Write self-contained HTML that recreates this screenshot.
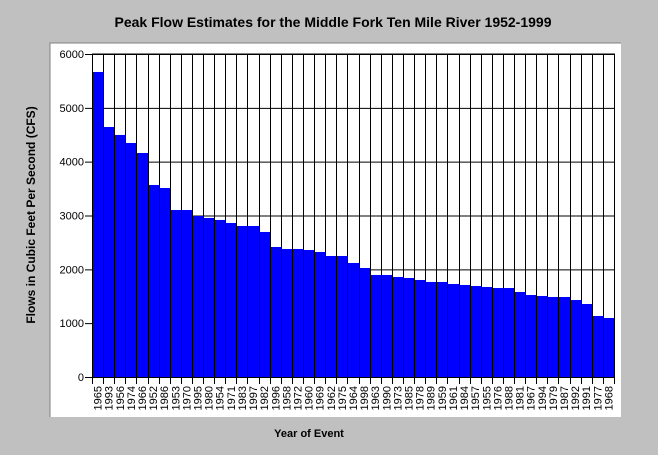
<!DOCTYPE html>
<html><head><meta charset="utf-8"><style>
body{margin:0;background:#c0c0c0;}
svg{display:block;font-family:"Liberation Sans",sans-serif;}
</style></head><body>
<svg width="658" height="455" xmlns="http://www.w3.org/2000/svg">
<rect x="0" y="0" width="658" height="455" fill="#c0c0c0"/>
<rect x="50" y="43" width="571" height="374" fill="#fff"/>
<path d="M50 417V43H621" stroke="#808080" fill="none"/>
<text x="333" y="27" text-anchor="middle" font-size="14" font-weight="bold" fill="#000">Peak Flow Estimates for the Middle Fork Ten Mile River 1952-1999</text>
<text transform="translate(35,215) rotate(-90)" text-anchor="middle" font-size="12" font-weight="bold">Flows in Cubic Feet Per Second (CFS)</text>
<text x="309" y="437" text-anchor="middle" font-size="11" font-weight="bold">Year of Event</text>
<g id="grid"></g><g id="bars"></g><g id="axes"></g>
</svg>
<script>
const years=["1965","1993","1956","1974","1966","1952","1986","1953","1970","1995","1980","1954","1971","1983","1997","1982","1996","1958","1972","1960","1969","1962","1975","1964","1998","1963","1990","1973","1985","1978","1989","1959","1961","1984","1957","1955","1976","1988","1981","1967","1994","1979","1987","1992","1991","1977","1968"];
const flows=[5666,4644,4496,4347,4161,3567,3511,3102,3102,2991,2954,2917,2861,2805,2805,2694,2415,2378,2378,2359,2322,2248,2248,2118,2025,1895,1895,1858,1839,1802,1765,1765,1728,1709,1690,1672,1653,1653,1579,1523,1505,1486,1486,1430,1356,1133,1096];
const yTicks=[0,1000,2000,3000,4000,5000,6000];
const NS="http://www.w3.org/2000/svg";
const L=92,R=614,T=54,B=377,YMAX=6000;
const step=(R-L)/years.length;
const x=i=>L+i*step;
const y=v=>B-(v/YMAX)*(B-T);
function mk(tag,attrs,parent){const e=document.createElementNS(NS,tag);for(const k in attrs)e.setAttribute(k,attrs[k]);document.getElementById(parent).appendChild(e);return e;}
yTicks.forEach(t=>{
  const g=mk('line',{x1:85,x2:R,y1:y(t)+0.5,y2:y(t)+0.5,stroke:'#000','stroke-width':1},'grid');
  
  
  const tx=mk('text',{x:84,y:y(t)+4,'text-anchor':'end','font-size':11},'axes');
  tx.textContent=t;
  
  
});
for(let i=0;i<=years.length;i++){
  const xx=Math.round(x(i))+0.5;
  const l=mk('line',{x1:xx,x2:xx,y1:T,y2:384,stroke:'#000','stroke-width':1},'grid');
  
  
}
flows.forEach((v,i)=>{
  const x0=Math.round(x(i))+1,x1=Math.round(x(i+1));
  const r=mk('rect',{x:x0,y:y(v),width:x1-x0,height:B-y(v),fill:'#0000ff'},'bars');
  
  
  const tx=mk('text',{transform:`translate(${x(i)+step/2+4},386) rotate(-90)`,'text-anchor':'end','font-size':11},'axes');
  tx.textContent=years[i];
  
  
});
const ax=mk('path',{d:`M${L+0.5} ${T}V${B+0.5}H${R+0.5}V${T}H${L}`,stroke:'#000',fill:'none'},'axes');


</script>
</body></html>
